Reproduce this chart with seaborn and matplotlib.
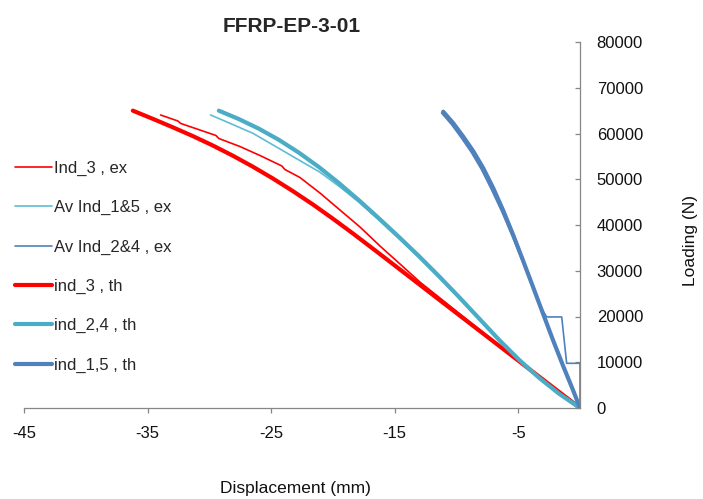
import pandas as pd
import seaborn as sns
import matplotlib.pyplot as plt

# valores: desplazamiento (mm) y carga (N)
# experimental (lineas finas)
ind3_ex_x = [-33.95, -32.55, -32.31, -30.77, -29.47, -29.23, -27.53, -25.91, -24.13, -23.89, -22.67,
             -21.05, -19.43, -17.81, -16.19, -14.57, -12.96, -11.34, -9.72, -8.10, -6.48, -4.86, -3.24, -1.62, 0.0]
ind3_ex_y = [64050, 62740, 62190, 60770, 59570, 58910, 57160, 55200, 52900, 52140, 50390,
             47000, 43280, 39570, 35410, 31480, 27540, 24050, 20550, 17050, 13550, 10270, 6780, 3280, 0]

av15_ex_x = [-29.90, -28.34, -26.48, -24.70, -22.67, -21.05, -19.43, -17.81, -16.19, -14.57, -12.96,
             -11.34, -9.72, -8.10, -6.48, -4.86, -3.24, -1.62, 0.0]
av15_ex_y = [64050, 62240, 60050, 57270, 54080, 51550, 48310, 44810, 40880, 36830, 32680,
             28310, 23830, 19240, 14650, 10270, 6450, 3060, 0]

av24_ex_x = [-11.21, -10.40, -9.60, -8.79, -7.98, -7.17, -6.32, -5.47, -4.62, -3.77, -3.00,
             -2.70, -1.48, -1.08, 0.0, 0.0]
av24_ex_y = [64490, 61970, 59020, 55850, 52140, 47760, 42850, 37490, 31810, 26120, 21200,
             19900, 19900, 9770, 9770, 0]

# teorico (lineas gruesas)
ind3_th_x = [-36.19, -34.57, -32.96, -31.34, -29.72, -28.10, -26.48, -24.86, -23.24, -21.62, -20.00,
             -18.38, -16.76, -15.14, -11.34, -7.29, -3.24, 0.0]
ind3_th_y = [64990, 63200, 61360, 59440, 57380, 55150, 52750, 50170, 47410, 44490, 41380,
             38150, 34820, 31460, 23540, 15130, 6710, 0]

ind24_th_x = [-29.23, -27.61, -25.99, -24.37, -22.75, -21.13, -19.51, -17.89, -16.28, -14.66, -13.04,
              -11.42, -9.80, -8.18, -6.56, -4.94, -3.32, -1.70, 0.0]
ind24_th_y = [64990, 63150, 61050, 58610, 55810, 52660, 49160, 45400, 41470, 37400, 33210,
              28830, 24290, 19610, 14930, 10560, 6620, 3130, 0]

ind15_th_x = [-11.07, -10.26, -9.45, -8.64, -7.83, -7.02, -6.21, -5.40, -4.59, -3.78, -2.97,
              -2.16, -1.35, -0.54, 0.0]
ind15_th_y = [64770, 62260, 59310, 56140, 52420, 48050, 43130, 37770, 32090, 26300, 20460,
              14670, 9090, 3740, 0]

x_ticks = [-45, -35, -25, -15, -5]
y_ticks = [0, 10000, 20000, 30000, 40000, 50000, 60000, 70000, 80000]

sns.set_theme(style='white')
plt.rcParams['font.family'] = ['Liberation Sans', 'DejaVu Sans']
plt.rcParams['axes.unicode_minus'] = False

fig = plt.figure(figsize=(7.03, 4.99), dpi=100)
ax = fig.add_axes([24/703, 91/499, 556/703, 366/499])

series = [
    (ind3_ex_x, ind3_ex_y, 'Ind_3 , ex', '#FF0000', 1.2),
    (av15_ex_x, av15_ex_y, 'Av Ind_1&5 , ex', '#5FBCD3', 1.2),
    (av24_ex_x, av24_ex_y, 'Av Ind_2&4 , ex', '#4F81BD', 1.2),
    (ind3_th_x, ind3_th_y, 'ind_3 , th', '#FF0000', 3.0),
    (ind24_th_x, ind24_th_y, 'ind_2,4 , th', '#4BACC6', 3.0),
    (ind15_th_x, ind15_th_y, 'ind_1,5 , th', '#4F81BD', 3.0),
]
for xs, ys, lab, col, lw in series:
    df = pd.DataFrame({'x': xs, 'y': ys})
    sns.lineplot(data=df, x='x', y='y', sort=False, estimator=None, color=col,
                 linewidth=lw, label=lab, ax=ax, solid_capstyle='round',
                 solid_joinstyle='round')

ax.set_xlim(-45, 0)
ax.set_ylim(0, 80000)
ax.set_xticks(x_ticks)
ax.set_yticks(y_ticks)

ax.yaxis.tick_right()
ax.yaxis.set_label_position('right')
for s in ['top', 'left']:
    ax.spines[s].set_visible(False)
for s in ['bottom', 'right']:
    ax.spines[s].set_color('#868686')
    ax.spines[s].set_linewidth(0.9)

ax.tick_params(axis='x', direction='out', length=3.6, width=0.9, color='#868686',
               labelsize=12, pad=9, labelcolor='#111111', bottom=True)
ax.tick_params(axis='y', direction='in', length=3.6, width=0.9, color='#868686',
               labelsize=12, pad=12, labelcolor='#111111', right=True, left=False)

ax.set_xlabel('Displacement (mm)', fontsize=12.5, color='#111111')
ax.xaxis.set_label_coords(0.489, -0.2)
ax.set_ylabel('Loading (N)', fontsize=12.5, color='#111111')
ax.yaxis.set_label_coords(1.186, 0.459)

ax.set_title('FFRP-EP-3-01', fontsize=15, fontweight='bold', x=0.482, pad=7)

ax.legend(loc='center left', bbox_to_anchor=(15/703, 0.4655), bbox_transform=fig.transFigure,
          frameon=False, fontsize=12, labelspacing=1.45, handlelength=2.2,
          handletextpad=0.15, borderpad=0, borderaxespad=0)

fig.savefig('out.png', dpi=100)
